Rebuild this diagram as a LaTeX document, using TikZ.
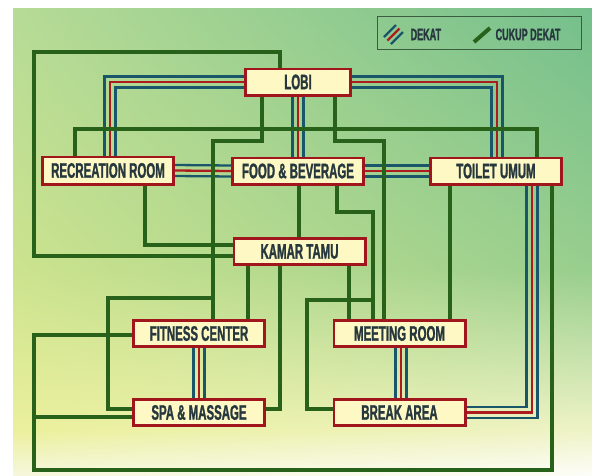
\documentclass[tikz,border=0pt]{standalone}
\usepackage{fontspec}
\newfontfamily\condfont[FakeStretch=0.545, FakeBold=1.2]{Liberation Sans Bold}
\usetikzlibrary{calc,shadings}
\definecolor{gline}{RGB}{40,98,26}
\definecolor{bline}{RGB}{26,86,106}
\definecolor{rline}{RGB}{172,28,30}
\definecolor{boxred}{RGB}{160,22,28}
\definecolor{boxfill}{RGB}{253,248,196}
\definecolor{txt}{RGB}{38,56,62}
\definecolor{legc}{RGB}{60,92,66}
\definecolor{bgA}{HTML}{B6DB96}
\definecolor{bgB}{HTML}{74BF8C}
\definecolor{bgC}{HTML}{CCE38E}
\definecolor{bgD}{HTML}{98CE8E}
\definecolor{bgE}{HTML}{EBF09C}
\definecolor{bgF}{HTML}{EEF3C6}
\definecolor{bgG}{HTML}{F6F7DC}
\definecolor{bgH}{HTML}{FDFDF8}
\pgfdeclarelayer{bg}
\pgfdeclarelayer{conn}
\pgfsetlayers{bg,conn,main}
\begin{document}
\begin{tikzpicture}[x=1pt,y=-1pt,
  room/.style={draw=boxred, line width=2.7pt, fill=boxfill, minimum width=131.3pt,
    minimum height=26.3pt, inner sep=0pt, text=txt,
    font=\condfont\fontsize{21}{22}\selectfont},
  g/.style={draw=gline, line width=3.8pt},
  tri/.style={line width=2.3pt},
  legtext/.style={text=txt, inner sep=0pt, anchor=west,
    font=\condfont\fontsize{16.5}{17}\selectfont}]
\useasboundingbox (0,0) rectangle (592,475);

% nodes
\node[room, minimum width=105.3pt] (lobi) at (298,82) {LOBI};
\node[room, minimum height=27.3pt] (rec) at (108,170.5) {RECREATION ROOM};
\node[room] (fb) at (298,171) {FOOD \& BEVERAGE};
\node[room] (toilet) at (496,171) {TOILET UMUM};
\node[room] (kamar) at (299.5,251.5) {KAMAR TAMU};
\node[room] (fit) at (199,333.5) {FITNESS CENTER};
\node[room] (spa) at (199,412.5) {SPA \& MASSAGE};
\node[room] (meet) at (399.5,333.5) {MEETING ROOM};
\node[room] (brk) at (399.5,412.5) {BREAK AREA};

% legend
\node[draw=legc, line width=1pt, minimum width=204pt, minimum height=33pt, inner sep=0pt] (legend) at (479.5,33) {};
\node[legtext] (lg1) at (410.5,34.5) {DEKAT};
\node[legtext] (lg2) at (495.5,34.5) {CUKUP DEKAT};
\draw[bline, line width=2.3pt] (384,37) -- (396,25);
\draw[rline, line width=2.3pt] (387.5,40.5) -- (399.5,28.5);
\draw[bline, line width=2.3pt] (391,44) -- (403,32);
\draw[gline, line width=4pt] (474,42) -- (490,28);

\begin{pgfonlayer}{bg}
\fill[white] (0,0) rectangle (592,475);
\shade[upper left=bgA, upper right=bgB, lower left=bgC, lower right=bgD] (13,8) rectangle (592,270);
\shade[upper left=bgC, upper right=bgD, lower left=bgE, lower right=bgF] (13,270) rectangle (592,430);
\shade[upper left=bgE, upper right=bgF, lower left=bgG, lower right=bgH] (13,430) rectangle (592,475);
\end{pgfonlayer}

\begin{pgfonlayer}{conn}
% DEKAT (triple lines)
\foreach \o/\c in {-5.5/bline,0/rline,5.5/bline} {
  \draw[tri, draw=\c] ($(lobi.west)+(0,\o)$) -| ($(rec.north)+(2+\o,0)$);
  \draw[tri, draw=\c] ($(lobi.east)+(0,\o)$) -| ($(toilet.north)+(1-\o,0)$);
  \draw[tri, draw=\c] ($(lobi.south)+(\o,0)$) -- ($(fb.north)+(\o,0)$);
  \draw[tri, draw=\c] ($(rec.east)+(0,\o)$) -- ($(fb.west)+(0,\o)$);
  \draw[tri, draw=\c] ($(fb.east)+(0,\o)$) -- ($(toilet.west)+(0,\o)$);
  \draw[tri, draw=\c] ($(toilet.south)+(36+\o,0)$) |- ($(brk.east)+(0,\o)$);
  \draw[tri, draw=\c] ($(fit.south)+(\o,0)$) -- ($(spa.north)+(\o,0)$);
  \draw[tri, draw=\c] ($(meet.south)+(1.5+\o,0)$) -- ($(brk.north)+(1.5+\o,0)$);
}
% CUKUP DEKAT (green lines)
\draw[g] (lobi.north -| 280,0) |- (34,52) |- (kamar.west |- 0,256);
\draw[g] (rec.south -| 145,0) |- (kamar.west |- 0,245);
\draw[g] (rec.north -| 75,0) |- (537,129) -- (toilet.north -| 537,0);
\draw[g] (lobi.south -| 262,0) |- (213,141) -- (fit.north -| 213,0);
\draw[g] (213,298) -- (108,298) |- (spa.west |- 0,409);
\draw[g] (toilet.south -| 552,0) |- (34,470) |- (fit.west |- 0,335);
\draw[g] (34,417) -- (spa.west |- 0,417);
\draw[g] (toilet.south -| 450,0) -- (meet.north -| 450,0);
\draw[g] (fb.south -| 299,0) -- (kamar.north -| 299,0);
\draw[g] (fb.south -| 337,0) |- (373,212) -- (meet.north -| 373,0);
\draw[g] (373,300) -- (307,300) |- (brk.west |- 0,409);
\draw[g] (lobi.south -| 335,0) |- (384,141) -- (meet.north -| 384,0);
\draw[g] (kamar.south -| 248,0) -- (fit.north -| 248,0);
\draw[g] (kamar.south -| 280,0) |- (spa.east |- 0,409);
\draw[g] (kamar.south -| 349,0) -- (meet.north -| 349,0);
\end{pgfonlayer}
\end{tikzpicture}
\end{document}
